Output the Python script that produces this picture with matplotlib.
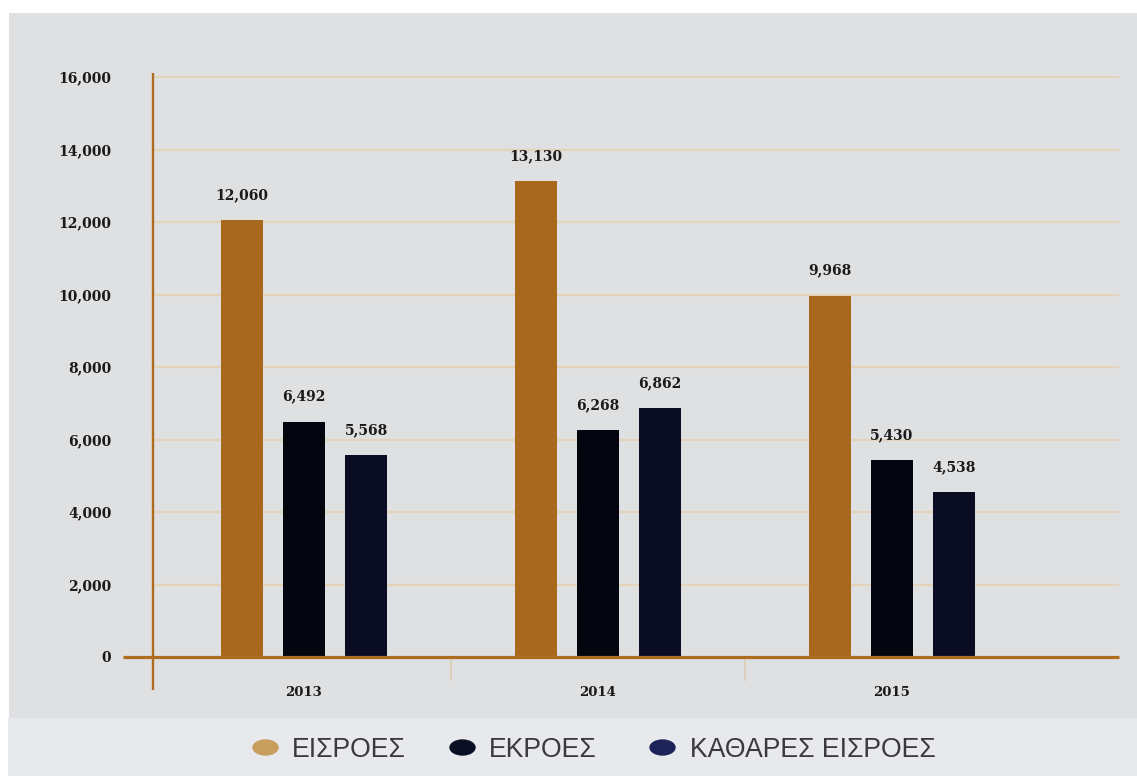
import matplotlib
matplotlib.use("Agg")
import matplotlib.pyplot as plt
from matplotlib.patches import Rectangle
from matplotlib.lines import Line2D
from matplotlib.path import Path
from matplotlib.transforms import Affine2D
import numpy as np

# Data
years = ["2013", "2014", "2015"]
inflows = [12060, 13130, 9968]        # ΕΙΣΡΟΕΣ
outflows = [6492, 6268, 5430]         # ΕΚΡΟΕΣ
net_inflows = [5568, 6862, 4538]      # ΚΑΘΑΡΕΣ ΕΙΣΡΟΕΣ
series_names = ["ΕΙΣΡΟΕΣ", "ΕΚΡΟΕΣ", "ΚΑΘΑΡΕΣ ΕΙΣΡΟΕΣ"]
y_ticks = [0, 2000, 4000, 6000, 8000, 10000, 12000, 14000, 16000]

bar_colors = ["#a8691f", "#03050f", "#0a0c24"]
legend_colors = ["#c79e5c", "#0b0f24", "#1b2358"]
axis_color = "#b06c1e"
grid_color = "#e2d4b8"
sep_color = "#dccdb0"
panel_color = "#dfe0e2"
legend_band_color = "#e8e9ed"
label_color = "#1a1a1a"

W, H = 1137, 776
fig = plt.figure(figsize=(W / 100, H / 100), dpi=100, facecolor="white")


def fx(px):
    return px / W


def fy(py):
    return (H - py) / H


# Background panels
fig.patches.append(Rectangle((fx(9), fy(718)), 1 - fx(9), (718 - 13) / H,
                             transform=fig.transFigure, facecolor=panel_color,
                             edgecolor="none", zorder=-10))
fig.patches.append(Rectangle((fx(8), 0), 1 - fx(8), fy(718),
                             transform=fig.transFigure, facecolor=legend_band_color,
                             edgecolor="none", zorder=-10))

ax_left, ax_right = 153, 1118
ax_bottom, ax_top = 657, 77
ax = fig.add_axes([fx(ax_left), fy(ax_bottom),
                   (ax_right - ax_left) / W, (ax_bottom - ax_top) / H])
ax.set_facecolor("none")

x = np.arange(len(years))
px_per_unit = 294.0
bar_w = 42 / px_per_unit
step = 62 / px_per_unit

ax.set_xlim((ax_left - 304) / px_per_unit, (ax_right - 304) / px_per_unit)
ax.set_ylim(0, 16000)

serif = ["DejaVu Serif"]
for i, (vals, col) in enumerate(zip([inflows, outflows, net_inflows], bar_colors)):
    pos = x + (i - 1) * step
    bars = ax.bar(pos, vals, width=bar_w, color=col, zorder=3)
    for b, v in zip(bars, vals):
        ax.annotate(f"{v:,}", (b.get_x() + b.get_width() / 2, v),
                    xytext=(0, 13), textcoords="offset points",
                    ha="center", va="bottom", fontsize=10, fontweight="bold",
                    family=serif, color=label_color)

# Horizontal grid
ax.set_yticks(y_ticks)
for t in y_ticks[1:]:
    ax.axhline(t, color=grid_color, lw=1.5, zorder=1, clip_on=False)
ax.set_yticklabels([f"{t:,}" for t in y_ticks], fontsize=10, fontweight="bold",
                   family=serif, color=label_color)
ax.tick_params(axis="y", length=0, pad=30)

# Category labels
ax.set_xticks(x)
ax.set_xticklabels(years, fontsize=9.5, fontweight="bold", family=serif, color=label_color)
ax.tick_params(axis="x", length=0, pad=21)

for s in ax.spines.values():
    s.set_visible(False)

# Axis lines extending past the plotting area
fig.add_artist(Line2D([fx(123), fx(1119)], [fy(657)] * 2, transform=fig.transFigure,
                      color=axis_color, lw=2.3, zorder=5, solid_capstyle="butt"))
fig.add_artist(Line2D([fx(153)] * 2, [fy(690), fy(73)], transform=fig.transFigure,
                      color=axis_color, lw=1.7, zorder=5, solid_capstyle="butt"))

# Category separators below the baseline
for sx in [0.5, 1.5]:
    ax.plot([sx, sx], [0, -23 / 580 * 16000], color=sep_color, lw=1.2,
            clip_on=False, zorder=2)

# Legend: flattened round markers followed by series names
ellipse = Path.unit_circle().transformed(Affine2D().scale(1.0, 0.62))
marker_px = [265, 462, 662]
text_px = [292, 489, 690]
leg_y = 747
for mx, tx, name, col in zip(marker_px, text_px, series_names, legend_colors):
    fig.add_artist(Line2D([fx(mx)], [fy(leg_y)], transform=fig.transFigure,
                          marker=ellipse, markersize=19, linestyle="none",
                          markerfacecolor=col, markeredgecolor="none"))
    fig.text(fx(tx), fy(leg_y), name, ha="left", va="center_baseline",
             family="Liberation Sans", fontsize=19.2, color="#3a3a3a")

fig.savefig("out.png", dpi=100, facecolor="white")
